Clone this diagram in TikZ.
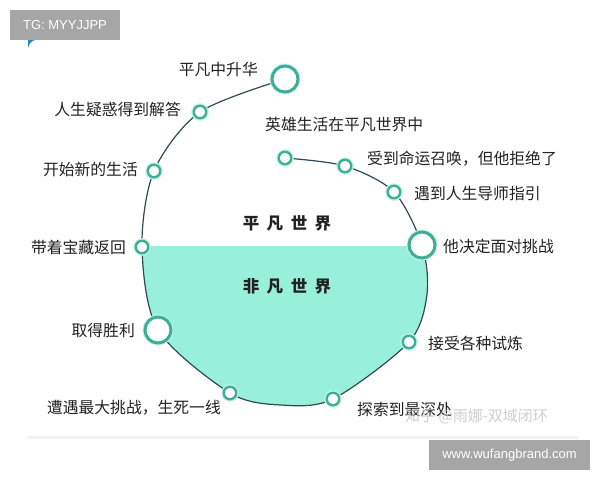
\documentclass[tikz,border=0pt]{standalone}
\usepackage{fontspec}
\newfontfamily\cjk{Noto Sans CJK SC}
\newfontfamily\lsans{Liberation Sans}
\usetikzlibrary{backgrounds}
\definecolor{fillc}{HTML}{98F0DA}
\definecolor{ringc}{HTML}{3FAE98}
\definecolor{glowc}{HTML}{C6F2E8}
\definecolor{linec}{HTML}{2F4A55}
\definecolor{txtc}{HTML}{222222}
\definecolor{boxc}{HTML}{A6A6A6}
\definecolor{bluec}{HTML}{2A7FC0}
\begin{document}
\begin{tikzpicture}[x=1pt,y=-1pt,
  dot/.style={circle, draw=ringc, fill=white, line width=2.4pt, minimum size=12.5pt, inner sep=0pt,
    preaction={draw=glowc, line width=5pt}},
  bigdot/.style={dot, line width=3pt, minimum size=26pt},
  lbl/.style={font=\cjk\fontsize{15.8}{18}\selectfont, text=txtc, inner sep=0pt},
  world/.style={font=\cjk\bfseries\fontsize{16.5}{18}\selectfont, text=txtc, inner sep=0pt},
  curve/.style={draw=linec, line width=1.2pt},
  graybox/.style={fill=boxc, draw=none, inner sep=0pt, text=white, font=\lsans\fontsize{13}{15}\selectfont}
]
\useasboundingbox (0,0) rectangle (600,480);

% stations on the hero's path
\node[bigdot] (c1) at (285,79) {};
\node[dot] (c2) at (200,112) {};
\node[dot] (c3) at (154,171) {};
\node[dot] (c4) at (142,247) {};
\node[bigdot] (c5) at (158,330) {};
\node[dot] (c6) at (230,393) {};
\coordinate (m2) at (281,405);
\node[dot] (c7) at (333,399) {};
\node[dot] (c8) at (409,342) {};
\coordinate (m1) at (427,294);
\node[bigdot] (c9) at (422,245) {};
\node[dot] (c10) at (394,192) {};
\node[dot] (c11) at (345,166) {};
\node[dot] (c12) at (285,158) {};

\begin{pgfonlayer}{background}
  \fill[white] (0,0) rectangle (600,480);
  \begin{scope}
    \clip (0,246) rectangle (600,480);
    \fill[fillc] plot[smooth] coordinates {(c1.center) (c2.center) (c3.center) (c4.center) (c5.center) (c6.center) (m2) (c7.center) (c8.center) (m1) (c9.center) (c10.center) (c11.center) (c12.center)} -- cycle;
  \end{scope}
  \draw[curve] plot[smooth] coordinates {(c1.center) (c2.center) (c3.center) (c4.center) (c5.center) (c6.center) (m2) (c7.center) (c8.center) (m1) (c9.center) (c10.center) (c11.center) (c12.center)};
\end{pgfonlayer}

% labels
\node[lbl, anchor=east] (t1) at (258,70) {平凡中升华};
\node[lbl, anchor=east] (t2) at (181,109) {人生疑惑得到解答};
\node[lbl, anchor=east] (t3) at (138,169) {开始新的生活};
\node[lbl, anchor=east] (t4) at (126,247) {带着宝藏返回};
\node[lbl, anchor=east] (t5) at (135,331) {取得胜利};
\node[lbl, anchor=east] (t6) at (221,408) {遭遇最大挑战，生死一线};
\node[lbl, anchor=west] (t7) at (357,409) {探索到最深处};
\node[lbl, anchor=west] (t8) at (428,343) {接受各种试炼};
\node[lbl, anchor=west] (t9) at (443,246) {他决定面对挑战};
\node[lbl, anchor=west] (t10) at (414,193) {遇到人生导师指引};
\node[lbl, anchor=west] (t11) at (367,159) {受到命运召唤，但他拒绝了};
\node[lbl, anchor=west] (t12) at (265,125) {英雄生活在平凡世界中};

\node[world] (w1) at (287,223) {平\hspace{7.5pt}凡\hspace{7.5pt}世\hspace{7.5pt}界};
\node[world] (w2) at (287,286) {非\hspace{7.5pt}凡\hspace{7.5pt}世\hspace{7.5pt}界};

% watermark
\node[font=\cjk\fontsize{15}{18}\selectfont, text=gray!45, opacity=0.85, anchor=west, inner sep=0pt] (wm) at (405,416) {知乎 @雨娜-双域闭环};

% faint edge line
\fill[gray!10] (28,436) rectangle (578,439);

% corner boxes
\fill[bluec] (28,40) -- (35,40) .. controls (31,41) and (29,44) .. (28,48) -- cycle;
\node[graybox, minimum width=110pt, minimum height=30pt] (tg) at (65,25) {TG: MYYJJPP};
\node[graybox, minimum width=161pt, minimum height=30pt] (wf) at (509.5,455) {www.wufangbrand.com};
\end{tikzpicture}
\end{document}
